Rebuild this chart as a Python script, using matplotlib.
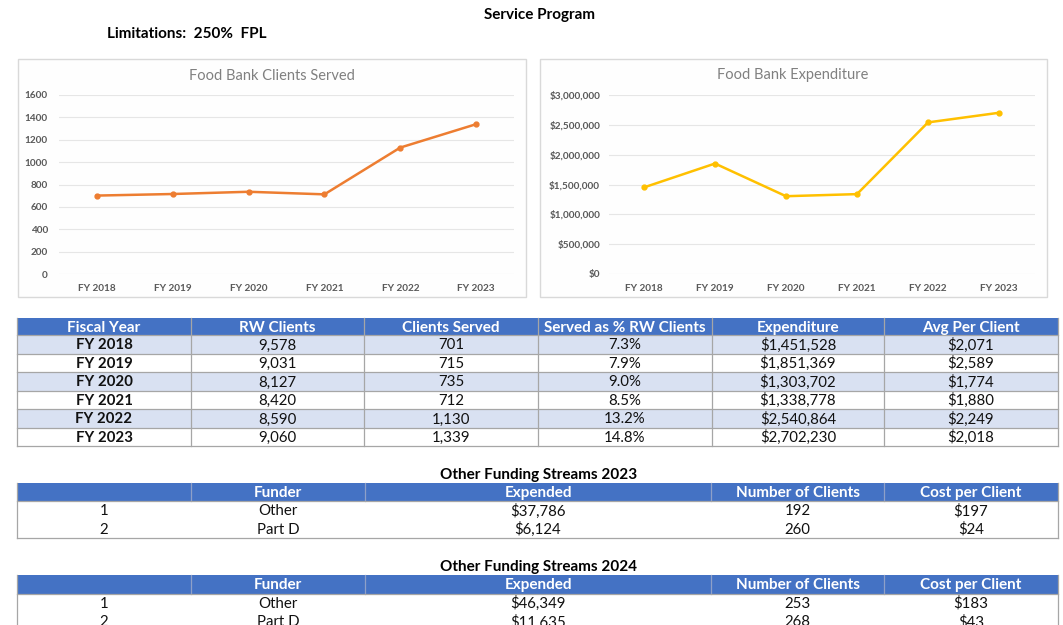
import matplotlib
matplotlib.use('Agg')
import matplotlib.pyplot as plt
from matplotlib.patches import Rectangle

plt.rcParams['font.family'] = ['Lato', 'DejaVu Sans']

# chart / table data
years = ['FY 2018', 'FY 2019', 'FY 2020', 'FY 2021', 'FY 2022', 'FY 2023']
rw_clients = [9578, 9031, 8127, 8420, 8590, 9060]
clients_served = [701, 715, 735, 712, 1130, 1339]
pct_served = [7.3, 7.9, 9.0, 8.5, 13.2, 14.8]
expenditure = [1451528, 1851369, 1303702, 1338778, 2540864, 2702230]
avg_per_client = [2071, 2589, 1774, 1880, 2249, 2018]

funders = ['Other', 'Part D']
expended_2023 = [37786, 6124]
clients_2023 = [192, 260]
cost_2023 = [197, 24]
expended_2024 = [46349, 11635]
clients_2024 = [253, 268]
cost_2024 = [183, 43]

W, H = 1063, 625
BLUE = '#4472C4'
LIGHT = '#D9E1F2'
GRID = '#A6A6A6'
FS_HEAD = 11
FS_CELL = 10.8

fig = plt.figure(figsize=(W / 100, H / 100), dpi=100)
fig.patch.set_facecolor('white')

# full-page axes in pixel units for the sheet layout
bg = fig.add_axes([0, 0, 1, 1])
bg.set_xlim(0, W)
bg.set_ylim(H, 0)
bg.axis('off')


def cell_text(x, y0, h, txt, **kw):
    # baseline placed so that the cap height sits centred in the cell
    bg.text(x, y0 + h / 2 + 5.2, txt, ha='center', va='baseline', **kw)


bg.text(539, 19, 'Service Program', ha='center', va='baseline', fontsize=11, fontweight='bold')
bg.text(107, 38, 'Limitations:  250%  FPL', ha='left', va='baseline', fontsize=11, fontweight='bold')

# chart frames
for x0, x1 in [(18, 526), (540, 1047)]:
    bg.add_patch(Rectangle((x0, 59), x1 - x0, 238, facecolor='#FEFEFE', edgecolor='#D9D9D9', lw=1))


def line_chart(left, right, box_mid, title, values, color, ymax, step, fmt, ypad):
    ax = fig.add_axes([left / W, (H - 274) / H, (right - left) / W, 179 / H])
    ax.set_facecolor('none')
    x = range(len(years))
    ax.plot(x, values, color=color, lw=1.8, marker='o', markersize=3.5, zorder=3)
    ax.set_xlim(-0.5, len(years) - 0.5)
    ax.set_ylim(0, ymax)
    ax.set_yticks(range(0, ymax + 1, step))
    ax.set_yticklabels([fmt(v) for v in range(0, ymax + 1, step)])
    ax.set_xticks(list(x))
    ax.set_xticklabels(years)
    ax.grid(axis='y', color='#E6E6E6', lw=0.8)
    ax.set_axisbelow(True)
    for s in ax.spines.values():
        s.set_visible(False)
    ax.tick_params(axis='both', length=0, labelsize=7.2, labelcolor='#595959')
    ax.tick_params(axis='y', pad=ypad)
    ax.tick_params(axis='x', pad=7)
    for lab in ax.get_xticklabels() + ax.get_yticklabels():
        lab.set_fontweight('bold')
    bg.text(box_mid, 79.5, title, ha='center', va='baseline', fontsize=10.5, color='#808080')
    return ax


line_chart(59, 514, 272, 'Food Bank Clients Served', clients_served, '#ED7D31',
           1600, 200, lambda v: f'{v}', 8)
line_chart(608.5, 1034.5, 793, 'Food Bank Expenditure', expenditure, '#FFC000',
           3000000, 500000, lambda v: f'${v:,}', 6)

# main table
cols = [17, 191, 364, 538, 712, 884, 1058]
headers = ['Fiscal Year', 'RW Clients', 'Clients Served', 'Served as % RW Clients',
           'Expenditure', 'Avg Per Client']
top, head_h, row_h = 318, 17, 18.5
bg.add_patch(Rectangle((cols[0], top), cols[-1] - cols[0], head_h, facecolor=BLUE, edgecolor='none'))
for i, h in enumerate(headers):
    cell_text((cols[i] + cols[i + 1]) / 2, top, head_h, h,
              fontsize=FS_HEAD, fontweight='bold', color='white')

for r in range(len(years)):
    y0 = top + head_h + r * row_h
    fc = LIGHT if r % 2 == 0 else 'white'
    bg.add_patch(Rectangle((cols[0], y0), cols[-1] - cols[0], row_h, facecolor=fc, edgecolor='none'))
    cells = [years[r], f'{rw_clients[r]:,}', f'{clients_served[r]:,}', f'{pct_served[r]:.1f}%',
             f'${expenditure[r]:,}', f'${avg_per_client[r]:,}']
    for c, txt in enumerate(cells):
        cell_text((cols[c] + cols[c + 1]) / 2, y0, row_h, txt, fontsize=FS_CELL,
                  color='#111111', fontweight='bold' if c == 0 else 'normal')
    bg.plot([cols[0], cols[-1]], [y0, y0], color=GRID, lw=0.9)

bottom = top + head_h + len(years) * row_h
bg.plot([cols[0], cols[-1]], [bottom, bottom], color=GRID, lw=0.9)
for cx in cols:
    bg.plot([cx, cx], [top, bottom], color=GRID, lw=0.9)


# other funding tables
fcols = [17, 191, 365, 711, 884, 1058]
fheaders = ['', 'Funder', 'Expended', 'Number of Clients', 'Cost per Client']


def funding_table(title, title_y, top, expended, clients, cost):
    bg.text(539, title_y + 5, title, ha='center', va='baseline', fontsize=11, fontweight='bold')
    hh, rh = 18.5, 18.5
    bg.add_patch(Rectangle((fcols[0], top), fcols[-1] - fcols[0], hh, facecolor=BLUE, edgecolor='none'))
    for i, h in enumerate(fheaders):
        cell_text((fcols[i] + fcols[i + 1]) / 2, top, hh, h,
                  fontsize=FS_HEAD, fontweight='bold', color='white')
    for cx in fcols[1:-1]:
        bg.plot([cx, cx], [top, top + hh], color='#8EA0C8', lw=0.9)
    for r in range(len(funders)):
        y0 = top + hh + r * rh
        cells = [str(r + 1), funders[r], f'${expended[r]:,}', f'{clients[r]}', f'${cost[r]}']
        for c, txt in enumerate(cells):
            cell_text((fcols[c] + fcols[c + 1]) / 2, y0, rh, txt, fontsize=FS_CELL, color='#111111')
    bot = top + hh + len(funders) * rh
    bg.plot([fcols[0], fcols[-1]], [top + hh, top + hh], color=GRID, lw=0.9)
    bg.plot([fcols[0], fcols[-1]], [bot, bot], color=GRID, lw=0.9)
    bg.plot([fcols[0], fcols[0]], [top, bot], color=GRID, lw=0.9)
    bg.plot([fcols[-1], fcols[-1]], [top, bot], color=GRID, lw=0.9)


funding_table('Other Funding Streams 2023', 474, 482.5, expended_2023, clients_2023, cost_2023)
funding_table('Other Funding Streams 2024', 566, 575, expended_2024, clients_2024, cost_2024)

plt.savefig('out.png', dpi=100, facecolor='white')
plt.close()
